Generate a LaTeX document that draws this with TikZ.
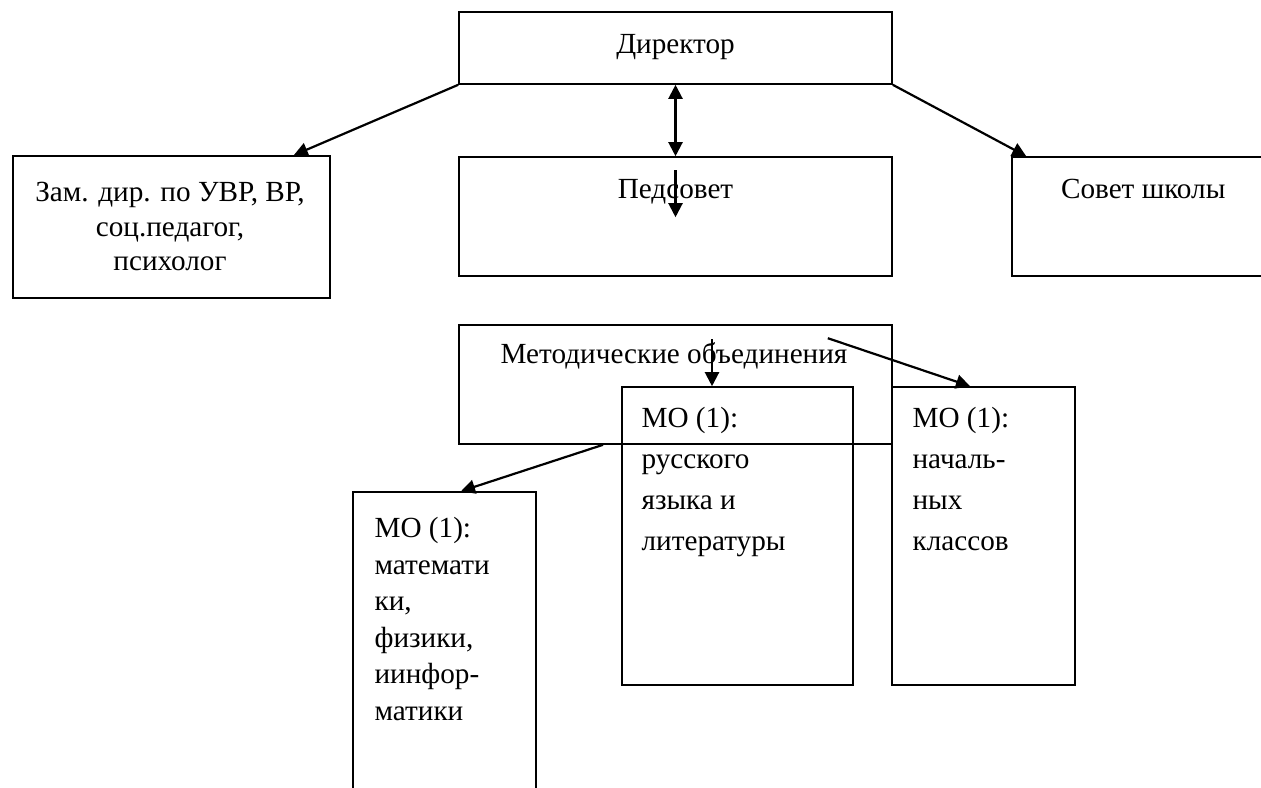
\documentclass[tikz,border=0pt]{standalone}
\usepackage{fontspec}
\setmainfont{Liberation Serif}
\usetikzlibrary{positioning,arrows.meta}

\begin{document}
\begin{tikzpicture}[x=0.5pt,y=-0.5pt,>={Triangle[length=7pt,width=7pt]},
  box/.style={draw,line width=0.8pt,inner sep=0pt},
  txt/.style={inner sep=0pt,font=\fontsize{14.6}{20.5}\selectfont},
  link/.style={line width=1.1pt}]
\useasboundingbox (0,0) rectangle (1261,787);
\clip (0,0) rectangle (1261,787);
% boxes
\node[box,minimum width=216.5pt,minimum height=36pt] (dir) at (675.5,48) {};
\node[box,minimum width=216.5pt,minimum height=59.5pt] (ped) at (675.5,216.5) {};
\node[box,minimum width=158.5pt,minimum height=71pt] (zam) at (171.5,227) {};
\node[box,minimum width=144pt,minimum height=59.5pt] (sovet) at (1156,216.5) {};
\node[box,minimum width=216.5pt,minimum height=59.5pt] (metod) at (675.5,384.5) {};
\node[box,minimum width=115.5pt,minimum height=149pt] (mor) at (737.5,536) {};
\node[box,minimum width=91.5pt,minimum height=149pt] (mon) at (983.5,536) {};
\node[box,minimum width=91.5pt,minimum height=154pt] (mom) at (444.5,646) {};
% texts
\node[txt,anchor=base] (dirtext) at ([yshift=-21pt]dir.north) {Директор};
\node[txt,anchor=base] (pedtext) at ([yshift=-21pt]ped.north) {Педсовет};
\node[txt,anchor=base] (sovettext) at ([xshift=66pt,yshift=-21pt]sovet.north west) {Совет школы};
\node[txt,anchor=base] (metodtext) at ([xshift=-0.75pt,yshift=-19.5pt]metod.north) {Методические объединения};
\node[txt,align=center,font=\fontsize{14.6}{17.25}\selectfont,anchor=north] (zamtext)
  at ([xshift=-0.75pt,yshift=-13.5pt]zam.north) {Зам. дир. по УВР, ВР,\\соц.педагог,\\психолог};
\node[txt,align=left,below right=10.5pt and 10pt of mor.north west] (mortext)
  {МО (1):\\русского\\языка и\\литературы};
\node[txt,align=left,below right=10.5pt and 10.5pt of mon.north west] (montext)
  {МО (1):\\началь-\\ных\\классов};
\node[txt,align=left,font=\fontsize{14.6}{18.25}\selectfont,below right=13pt and 11pt of mom.north west] (momtext)
  {МО (1):\\математи\\ки,\\физики,\\иинфор-\\матики};
% links
\draw[link,->] (dir.south west) -- ([xshift=-18.5pt]zam.north east);
\draw[link,->] (dir.south east) -- ([xshift=7.5pt]sovet.north west);
\draw[link,<->] (dir.south) -- (ped.north);
\draw[link,<-] ([yshift=-30.5pt]ped.north) -- ++(0,-47);
\draw[link,<-] ([xshift=-12.75pt]mor.north) -- ++(0,-47);
\draw[link,->] ([xshift=-32.5pt,yshift=-7pt]metod.north east) -- ([xshift=-6.75pt]mon.north);
\draw[link,->] ([xshift=-36.25pt]metod.south) -- ([xshift=8.25pt]mom.north);
\end{tikzpicture}
\end{document}
